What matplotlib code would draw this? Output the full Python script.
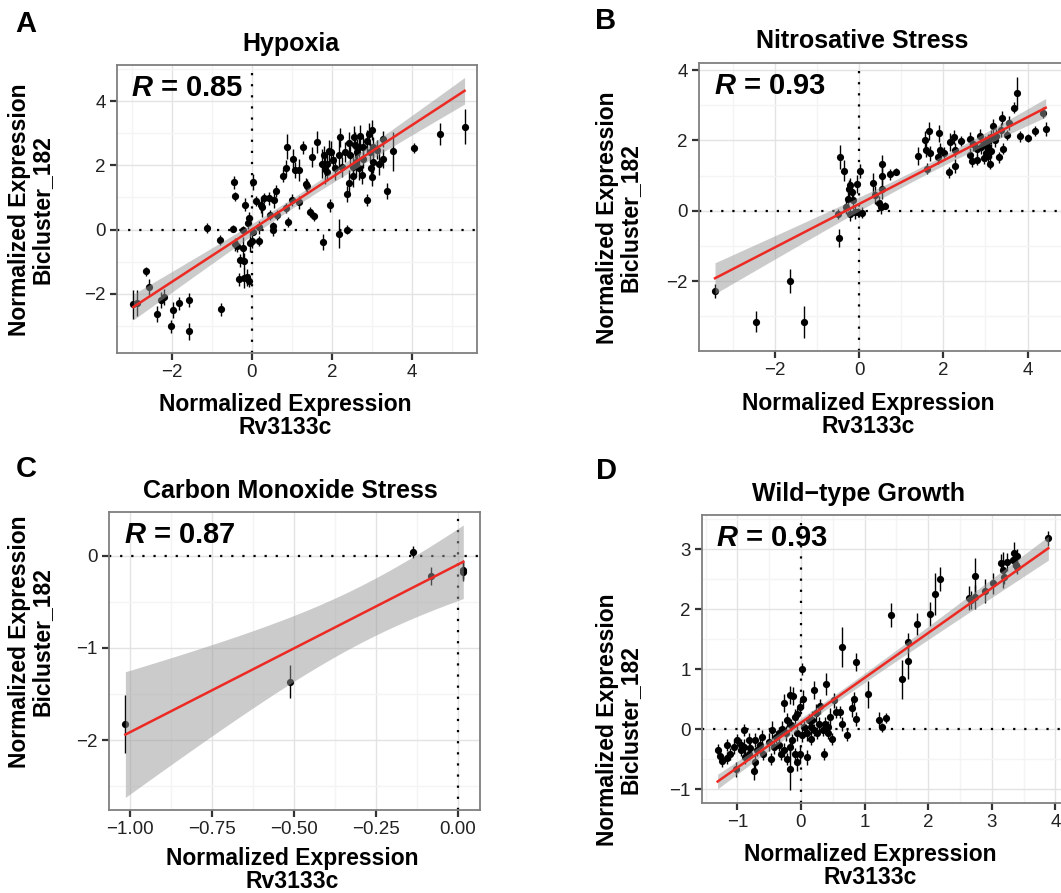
import matplotlib
matplotlib.use("Agg")
import matplotlib.pyplot as plt
from matplotlib.ticker import MultipleLocator
import numpy as np

plt.rcParams["font.family"] = ["Liberation Sans", "DejaVu Sans"]
plt.rcParams["mathtext.fontset"] = "custom"
plt.rcParams["mathtext.it"] = "Liberation Sans:italic:bold"
plt.rcParams["mathtext.rm"] = "Liberation Sans:bold"

W, H = 1061, 893

# ---- data ----
hyp_x = [-2.96, -2.86, -2.64, -2.56, -2.36, -2.27, -2.19, -2.03, -1.98, -1.83, -1.58, -1.57,
         -1.11, -0.79, -0.77, -0.48, -0.44, -0.42, -0.42, -0.36, -0.31, -0.29, -0.21, -0.19,
         -0.18, -0.19, -0.13, -0.06, -0.23, -0.10, -0.06, -0.04, 0.00, 0.04, 0.04, 0.10,
         0.19, 0.18, 0.23, 0.26, 0.31, 0.42, 0.46, 0.52, 0.52, 0.56, 0.60, 0.63, 0.78, 0.86,
         0.86, 0.88, 0.90, 1.00, 1.04, 1.08, 1.17, 1.17, 1.29, 1.36, 1.39, 1.46, 1.50, 1.56,
         1.63, 1.75, 1.79, 1.81, 1.83, 1.88, 1.92, 1.96, 1.98, 2.08, 2.17, 2.21, 2.19, 2.32,
         2.38, 2.38, 2.42, 2.43, 2.46, 2.53, 2.56, 2.58, 2.61, 2.63, 2.67, 2.67, 2.71, 2.75,
         2.79, 2.88, 2.89, 2.92, 2.96, 2.98, 3.00, 3.01, 3.03, 3.13, 3.19, 3.28, 3.29, 3.39,
         3.53, 4.06, 4.71, 5.32, 1.88, 2.04, 2.25, 2.54, 2.79, 3.04]
hyp_y = [-2.33, -2.29, -1.30, -1.79, -2.64, -2.18, -2.10, -3.01, -2.49, -2.29, -2.18, -3.17,
         0.05, -0.33, -2.48, 0.03, 1.47, 1.03, -0.46, -0.51, -1.54, -0.95, -0.58, -0.99,
         0.77, -1.51, -1.49, -1.59, 0.00, 0.21, 0.36, -0.41, -0.36, -0.07, 1.47, 0.89,
         -0.36, 0.07, 0.75, 0.69, 0.99, 0.97, 0.46, 0.10, -0.01, 0.92, 1.20, 0.46, 1.67, 1.92,
         0.67, 2.58, 0.24, 0.92, 2.21, 1.85, 1.85, 0.85, 2.56, 1.41, 1.36, 0.54, 2.26, 0.41,
         2.72, 2.05, -0.39, 2.31, 1.88, 2.05, 2.43, 0.75, 2.41, 1.90, -0.13, 2.87, 2.33, 2.41,
         0.00, 1.10, 2.70, 1.44, 2.31, 1.67, 2.87, 2.62, 2.10, 2.41, 2.56, 1.90, 2.90, 1.71,
         2.21, 2.74, 0.92, 2.97, 2.41, 1.90, 3.10, 1.64, 2.10, 2.49, 2.05, 2.21, 2.82, 1.20,
         2.43, 2.53, 2.97, 3.20, 1.80, 2.15, 1.95, 1.95, 2.57, 2.57]
hyp_err = [0.45, 0.40, 0.15, 0.25, 0.25, 0.25, 0.25, 0.20, 0.25, 0.20, 0.22, 0.25,
           0.15, 0.15, 0.20, 0.10, 0.20, 0.15, 0.20, 0.20, 0.20, 0.20, 0.35, 0.25,
           0.20, 0.30, 0.25, 0.20, 0.10, 0.20, 0.20, 0.30, 0.20, 0.10, 0.25, 0.15,
           0.15, 0.20, 0.25, 0.30, 0.15, 0.20, 0.15, 0.15, 0.20, 0.25, 0.20, 0.15, 0.20, 0.25,
           0.15, 0.40, 0.15, 0.20, 0.30, 0.25, 0.35, 0.20, 0.20, 0.20, 0.20, 0.15, 0.30, 0.15,
           0.35, 0.45, 0.25, 0.30, 0.45, 0.35, 0.35, 0.20, 0.35, 0.35, 0.45, 0.30, 0.45, 0.30,
           0.15, 0.25, 0.35, 0.40, 0.30, 0.35, 0.35, 0.40, 0.45, 0.40, 0.30, 0.35, 0.35, 0.30,
           0.30, 0.35, 0.20, 0.35, 0.30, 0.25, 0.30, 0.30, 0.35, 0.30, 0.35, 0.30, 0.25, 0.25,
           0.60, 0.15, 0.35, 0.55, 0.30, 0.30, 0.30, 0.30, 0.30, 0.30]

nit_x = [-3.42, -2.44, -1.63, -1.31, -0.48, -0.45, -0.36, -0.49, -0.30, -0.26, -0.24, -0.21,
         -0.17, -0.14, -0.10, -0.22, -0.05, 0.02, 0.08, -0.02, 0.33, 0.37, 0.48, 0.51, 0.55,
         0.55, 0.54, 0.61, 0.73, 0.87, 1.40, 1.56, 1.58, 1.61, 1.66, 1.68, 1.88, 1.90, 1.92,
         2.01, 2.14, 2.15, 2.25, 2.27, 2.27, 2.43, 2.63, 2.64, 2.67, 2.79, 2.81, 2.87, 2.96,
         2.98, 3.02, 3.06, 3.10, 3.14, 3.18, 3.22, 3.33, 3.36, 3.40, 3.42, 3.50, 3.56, 3.67,
         3.76, 3.82, 4.00, 4.17, 4.37, 4.43, 2.71, 2.89, 3.05, 3.13, 3.07, 3.24]
nit_y = [-2.28, -3.15, -1.99, -3.15, -0.77, 1.53, 1.14, -0.09, 0.11, 0.35, 0.63, 0.73,
         0.54, 0.30, -0.03, -0.08, 0.76, 1.14, -0.05, -0.03, 0.78, 0.45, 0.21, 0.11, 1.33,
         0.98, 0.63, 0.14, 1.04, 1.11, 1.56, 2.01, 1.72, 1.20, 2.27, 1.63, 1.53, 2.20, 1.72,
         1.65, 1.09, 1.96, 2.10, 1.27, 1.72, 1.99, 2.04, 1.58, 1.41, 1.44, 1.77, 2.12, 1.49,
         1.93, 1.63, 1.82, 1.34, 2.10, 2.41, 2.01, 1.52, 2.29, 2.65, 1.77, 2.15, 2.50, 2.93,
         3.35, 2.12, 2.07, 2.27, 2.79, 2.32, 1.91, 1.82, 1.55, 1.69, 1.98, 2.13]
nit_err = [0.20, 0.30, 0.35, 0.45, 0.25, 0.35, 0.30, 0.15, 0.20, 0.20, 0.25, 0.20,
           0.20, 0.25, 0.20, 0.20, 0.25, 0.20, 0.15, 0.10, 0.30, 0.25, 0.20, 0.20, 0.25,
           0.30, 0.30, 0.10, 0.15, 0.10, 0.25, 0.25, 0.20, 0.15, 0.25, 0.20, 0.20, 0.25, 0.20,
           0.15, 0.15, 0.25, 0.20, 0.20, 0.20, 0.15, 0.20, 0.20, 0.15, 0.15, 0.20, 0.20, 0.15,
           0.20, 0.20, 0.20, 0.15, 0.20, 0.20, 0.20, 0.15, 0.20, 0.20, 0.15, 0.15, 0.20, 0.15,
           0.45, 0.15, 0.10, 0.15, 0.15, 0.20, 0.20, 0.20, 0.20, 0.20, 0.20, 0.20]

co_x = [-1.015, -0.511, -0.138, -0.082, 0.015, 0.017]
co_y = [-1.826, -1.367, 0.043, -0.217, -0.148, -0.170]
co_err = [0.31, 0.18, 0.07, 0.10, 0.10, 0.10]

wt_x = [3.89, 3.40, 3.35, 3.33, 3.24, 3.18, 3.14, 3.19, 3.38, 3.40, 3.02, 2.90, 2.73, 2.73,
        2.64, 2.67, 2.11, 2.19, 2.03, 1.82, 1.42, 1.68, 1.68, 1.59, 1.05, 1.22, 1.27, 1.34,
        0.86, 0.64, 0.02, 0.40, 0.21, 0.87, 0.83, 0.80, 0.73, 0.64, 0.61, 0.55, 0.52, 0.45,
        0.43, 0.36, 0.30, 0.24, 0.17, 0.09, 0.03, -0.01, -0.06, -0.18, -0.18, -0.12, -0.27,
        -0.22, -0.30, -0.45, -0.89, -0.74, -1.31, -1.27, -1.24, -1.16, -1.16, -1.01, -1.02,
        -0.95, -0.89, -0.82, -0.80, -0.72, -0.69, -0.64, -0.61, -0.59, -0.51, -0.47, -0.43,
        -0.35, -0.32, -0.26, -0.22, -0.17, -0.14, -0.10, -0.06, -0.02, 0.02, 0.05, 0.09, 0.12,
        0.15, 0.16, 0.20, 0.25, 0.28, 0.35, 0.38, 0.43, 0.49, -0.10, -0.06, -0.16, -0.23,
        -0.34, -0.40, -0.82, -0.94, -1.11, -1.05, -0.88, -0.73]
wt_y = [3.18, 2.88, 2.94, 2.82, 2.79, 2.65, 2.77, 2.54, 2.74, 2.71, 2.43, 2.31, 2.55, 2.20,
        2.18, 2.15, 2.25, 2.50, 1.92, 1.75, 1.90, 1.46, 1.14, 0.83, 0.58, 0.16, 0.03, 0.19,
        1.12, 1.37, 1.00, 0.75, 0.66, 0.17, 0.50, 0.35, -0.10, 0.09, 0.28, 0.28, 0.48, 0.21,
        -0.07, -0.41, 0.38, 0.27, 0.15, -0.47, 0.50, 0.37, -0.55, -0.66, 0.57, 0.56, 0.44,
        0.15, 0.01, -0.02, -0.02, -0.70, -0.34, -0.45, -0.53, -0.48, -0.27, -0.18, -0.67,
        -0.35, -0.29, -0.41, -0.32, -0.18, -0.35, -0.27, -0.13, -0.41, -0.21, -0.49, -0.29,
        -0.27, -0.41, -0.35, -0.49, -0.29, -0.18, -0.41, -0.07, -0.41, -0.10, 0.04, -0.07, 0.15,
        0.04, -0.16, -0.02, -0.07, 0.09, -0.02, 0.09, 0.04, -0.16, 0.21, 0.26, 0.07, -0.07,
        -0.07, -0.13, -0.18, -0.27, -0.41, -0.29, -0.46, -0.55]
wt_err = [0.12, 0.12, 0.18, 0.12, 0.15, 0.30, 0.15, 0.12, 0.12, 0.12, 0.18, 0.20, 0.30, 0.20,
          0.20, 0.15, 0.35, 0.20, 0.20, 0.18, 0.20, 0.15, 0.30, 0.33, 0.22, 0.12, 0.08, 0.08,
          0.15, 0.33, 0.10, 0.18, 0.15, 0.12, 0.12, 0.15, 0.10, 0.12, 0.10, 0.10, 0.12, 0.15,
          0.10, 0.10, 0.12, 0.15, 0.15, 0.12, 0.15, 0.12, 0.15, 0.36, 0.15, 0.15, 0.15,
          0.12, 0.12, 0.15, 0.10, 0.15, 0.10, 0.10, 0.10, 0.10, 0.10, 0.10, 0.12,
          0.10, 0.12, 0.10, 0.10, 0.12, 0.10, 0.12, 0.12, 0.10, 0.15, 0.10, 0.12,
          0.10, 0.10, 0.12, 0.10, 0.12, 0.10, 0.10, 0.12, 0.15, 0.12, 0.10, 0.12, 0.10,
          0.12, 0.10, 0.10, 0.10, 0.12, 0.10, 0.12, 0.10, 0.10, 0.12, 0.10, 0.10, 0.12,
          0.10, 0.10, 0.12, 0.10, 0.10, 0.12, 0.12, 0.12]

panels = [
    dict(letter="A", title="Hypoxia", r="0.85", x=hyp_x, y=hyp_y, err=hyp_err,
         box=(117, 65, 477, 353), xlim=(-3.37, 5.63), ylim=(-3.84, 5.12),
         xmaj=2, xmin=1, ymaj=2, ymin=1, xfmt="{:g}",
         letter_xy=(26, 24), title_xy=(291, 44), xlab_xy=(285, 416), ylab_xy=(31, 210)),
    dict(letter="B", title="Nitrosative Stress", r="0.93", x=nit_x, y=nit_y, err=nit_err,
         box=(699, 63, 1063, 351), xlim=(-3.80, 4.84), ylim=(-3.98, 4.20),
         xmaj=2, xmin=1, ymaj=2, ymin=1, xfmt="{:g}",
         letter_xy=(606, 21), title_xy=(862, 41), xlab_xy=(868, 415), ylab_xy=(619, 218)),
    dict(letter="C", title="Carbon Monoxide Stress", r="0.87", x=co_x, y=co_y, err=co_err,
         box=(109, 512, 480, 810), xlim=(-1.065, 0.068), ylim=(-2.76, 0.477),
         xmaj=0.25, xmin=0.125, ymaj=1, ymin=0.5, xfmt="{:.2f}",
         letter_xy=(26, 469), title_xy=(290, 491), xlab_xy=(292, 870), ylab_xy=(31, 642)),
    dict(letter="D", title="Wild\u2212type Growth", r="0.93", x=wt_x, y=wt_y, err=wt_err,
         box=(702, 515, 1063, 803), xlim=(-1.556, 4.12), ylim=(-1.23, 3.57),
         xmaj=1, xmin=0.5, ymaj=1, ymin=0.5, xfmt="{:g}",
         letter_xy=(606, 471), title_xy=(858, 494), xlab_xy=(870, 866), ylab_xy=(619, 720)),
]

# t quantile (97.5%) via Cornish-Fisher expansion
def t975(df):
    z = 1.959964
    return (z + (z**3 + z) / (4 * df) + (5 * z**5 + 16 * z**3 + 3 * z) / (96 * df**2)
            + (3 * z**7 + 19 * z**5 + 17 * z**3 - 15 * z) / (384 * df**3))


def minus(s):
    return s.replace("-", "\u2212")


def px(pt):
    return pt[0] / W, 1 - pt[1] / H


fig = plt.figure(figsize=(W / 100, H / 100), dpi=100)
fig.patch.set_facecolor("white")

for p in panels:
    l, t, r, b = p["box"]
    ax = fig.add_axes([l / W, 1 - b / H, (r - l) / W, (b - t) / H])
    ax.set_xlim(*p["xlim"])
    ax.set_ylim(*p["ylim"])

    # grid like theme_bw
    ax.xaxis.set_major_locator(MultipleLocator(p["xmaj"]))
    ax.xaxis.set_minor_locator(MultipleLocator(p["xmin"]))
    ax.yaxis.set_major_locator(MultipleLocator(p["ymaj"]))
    ax.yaxis.set_minor_locator(MultipleLocator(p["ymin"]))
    ax.grid(True, which="major", color="#E3E3E3", lw=1.0, zorder=0)
    ax.grid(True, which="minor", color="#F4F4F4", lw=1.0, zorder=0)
    ax.set_axisbelow(True)
    ax.tick_params(which="minor", length=0)
    ax.tick_params(which="major", length=5, width=1.6, color="#333333",
                   labelsize=13.5, labelcolor="#222222", pad=3)
    ax.xaxis.set_major_formatter(plt.FuncFormatter(
        lambda v, _, f=p["xfmt"]: minus(f.format(v)) if abs(v) > 1e-9 else f.format(0.0)))
    ax.yaxis.set_major_formatter(plt.FuncFormatter(lambda v, _: minus("{:g}".format(round(v, 6)))))
    for s in ax.spines.values():
        s.set_color("#7F7F7F")
        s.set_linewidth(1.3)

    ax.axhline(0, color="black", lw=1.6, ls=(0, (1, 4)), zorder=1)
    ax.axvline(0, color="black", lw=1.6, ls=(0, (1, 4)), zorder=1)

    x = np.array(p["x"])
    y = np.array(p["y"])
    e = np.array(p["err"])
    ax.vlines(x, y - e, y + e, color="black", lw=1.0, zorder=3)
    ax.plot(x, y, "o", color="black", ms=5.2, mec="none", zorder=3)

    # linear fit with 95% confidence band
    n = len(x)
    slope, icpt = np.polyfit(x, y, 1)
    resid = y - (slope * x + icpt)
    s_err = np.sqrt(np.sum(resid ** 2) / (n - 2))
    xx = np.linspace(x.min(), x.max(), 200)
    yy = slope * xx + icpt
    se = s_err * np.sqrt(1 / n + (xx - x.mean()) ** 2 / np.sum((x - x.mean()) ** 2))
    tq = t975(n - 2)
    ax.fill_between(xx, yy - tq * se, yy + tq * se, color="#999999", alpha=0.5,
                    lw=0, zorder=4)
    ax.plot(xx, yy, color="#EC2A23", lw=1.8, zorder=5)

    ax.text(0.04, 0.97, "$\\mathit{R}$ = " + p["r"], transform=ax.transAxes,
            fontsize=21, fontweight="bold", ha="left", va="top", zorder=6)

    fig.text(*px(p["letter_xy"]), p["letter"], fontsize=21, fontweight="bold",
             ha="center", va="center")
    fig.text(*px(p["title_xy"]), p["title"], fontsize=18, fontweight="bold",
             ha="center", va="center")
    fig.text(*px(p["xlab_xy"]), "Normalized Expression\nRv3133c", fontsize=16.5,
             fontweight="bold", ha="center", va="center", linespacing=1.0)
    fig.text(*px(p["ylab_xy"]), "Normalized Expression\nBicluster_182", fontsize=16.5,
             fontweight="bold", ha="center", va="center", rotation=90, linespacing=1.0)

fig.savefig("out.png", dpi=100)
